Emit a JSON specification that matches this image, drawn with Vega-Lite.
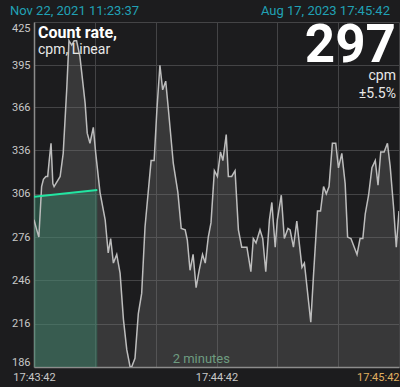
{
  "$schema": "https://vega.github.io/schema/vega-lite/v6.json",
  "width": 365,
  "height": 345,
  "autosize": {"type": "none"},
  "padding": {"left": 34, "top": 22, "right": 1, "bottom": 20},
  "background": "#1c1c1e",
  "config": {
    "font": "Roboto",
    "view": {"stroke": null, "fill": "#1c1c1e"},
    "axis": {"gridColor": "#444446", "gridWidth": 1, "ticks": false, "domainColor": "#8c8c8c", "domainWidth": 1.5, "labelColor": "#c8c8c8", "labelFont": "Roboto", "labelFontSize": 11, "title": null}
  },
  "datasets": {
    "rate": [
      {"s": 0, "cpm": 288}, {"s": 0.9, "cpm": 281}, {"s": 1.6, "cpm": 276}, {"s": 2.5, "cpm": 311},
      {"s": 3.1, "cpm": 316}, {"s": 3.9, "cpm": 318}, {"s": 4.5, "cpm": 318}, {"s": 5.0, "cpm": 329},
      {"s": 5.6, "cpm": 341}, {"s": 6.2, "cpm": 313}, {"s": 6.6, "cpm": 311}, {"s": 8.6, "cpm": 318},
      {"s": 9.6, "cpm": 334}, {"s": 10.8, "cpm": 380}, {"s": 11.5, "cpm": 412}, {"s": 12.4, "cpm": 409},
      {"s": 13.2, "cpm": 412}, {"s": 14.0, "cpm": 412}, {"s": 15.1, "cpm": 401}, {"s": 16.8, "cpm": 369},
      {"s": 17.5, "cpm": 348}, {"s": 18.4, "cpm": 341}, {"s": 19.5, "cpm": 352}, {"s": 20.3, "cpm": 334},
      {"s": 21.7, "cpm": 307}, {"s": 23.4, "cpm": 288}, {"s": 24.4, "cpm": 265}, {"s": 25.2, "cpm": 275},
      {"s": 26.1, "cpm": 258}, {"s": 27.2, "cpm": 264}, {"s": 28.3, "cpm": 251}, {"s": 29.4, "cpm": 219},
      {"s": 30.5, "cpm": 198}, {"s": 31.6, "cpm": 186}, {"s": 32.1, "cpm": 186}, {"s": 33.2, "cpm": 192},
      {"s": 34.3, "cpm": 223}, {"s": 35.4, "cpm": 237}, {"s": 36.5, "cpm": 283}, {"s": 38.5, "cpm": 329},
      {"s": 39.5, "cpm": 329}, {"s": 40.4, "cpm": 364}, {"s": 41.4, "cpm": 395}, {"s": 42.3, "cpm": 378},
      {"s": 43.3, "cpm": 384}, {"s": 44.2, "cpm": 364}, {"s": 45.8, "cpm": 327}, {"s": 47.3, "cpm": 307},
      {"s": 48.4, "cpm": 282}, {"s": 49.7, "cpm": 281}, {"s": 50.4, "cpm": 274}, {"s": 51.3, "cpm": 253},
      {"s": 52.3, "cpm": 264}, {"s": 53.3, "cpm": 241}, {"s": 54.3, "cpm": 253}, {"s": 55.4, "cpm": 264},
      {"s": 56.3, "cpm": 258}, {"s": 57.3, "cpm": 276}, {"s": 58.2, "cpm": 286}, {"s": 59.3, "cpm": 322},
      {"s": 60.3, "cpm": 318}, {"s": 61.3, "cpm": 335}, {"s": 62.1, "cpm": 329}, {"s": 63.2, "cpm": 347},
      {"s": 63.9, "cpm": 318}, {"s": 65.0, "cpm": 318}, {"s": 66.1, "cpm": 322}, {"s": 67.2, "cpm": 281},
      {"s": 68.3, "cpm": 269}, {"s": 70.0, "cpm": 269}, {"s": 71.3, "cpm": 252}, {"s": 72.1, "cpm": 275},
      {"s": 73.0, "cpm": 272}, {"s": 74.3, "cpm": 281}, {"s": 75.2, "cpm": 275}, {"s": 76.2, "cpm": 252},
      {"s": 77.4, "cpm": 288}, {"s": 78.2, "cpm": 300}, {"s": 79.3, "cpm": 269}, {"s": 80.0, "cpm": 288},
      {"s": 81.3, "cpm": 305}, {"s": 82.3, "cpm": 275}, {"s": 83.5, "cpm": 282}, {"s": 84.2, "cpm": 281},
      {"s": 85.3, "cpm": 269}, {"s": 86.4, "cpm": 287}, {"s": 88.1, "cpm": 255}, {"s": 88.9, "cpm": 258},
      {"s": 91.0, "cpm": 217}, {"s": 91.9, "cpm": 250}, {"s": 93.2, "cpm": 294}, {"s": 94.2, "cpm": 294},
      {"s": 95.2, "cpm": 311}, {"s": 96.1, "cpm": 306}, {"s": 97.0, "cpm": 311}, {"s": 98.1, "cpm": 341},
      {"s": 99.2, "cpm": 341}, {"s": 100.1, "cpm": 324}, {"s": 101.2, "cpm": 334}, {"s": 102.3, "cpm": 313},
      {"s": 103.1, "cpm": 276}, {"s": 104.2, "cpm": 275}, {"s": 106.2, "cpm": 264}, {"s": 107.2, "cpm": 275},
      {"s": 108.1, "cpm": 275}, {"s": 108.9, "cpm": 292}, {"s": 110.0, "cpm": 305}, {"s": 111.1, "cpm": 324},
      {"s": 112.2, "cpm": 329}, {"s": 113.1, "cpm": 312}, {"s": 114.0, "cpm": 335}, {"s": 115.1, "cpm": 335},
      {"s": 116.2, "cpm": 341}, {"s": 117.1, "cpm": 325}, {"s": 118.2, "cpm": 297}, {"s": 119.1, "cpm": 269},
      {"s": 120, "cpm": 294}
    ],
    "trend": [
      {"s": 0, "cpm": 303.9},
      {"s": 20.8, "cpm": 308.6}
    ]
  },
  "layer": [
    {
      "data": {"name": "rate"},
      "mark": {"type": "area", "color": "#7a7a7a", "opacity": 0.3, "clip": true},
      "encoding": {
        "x": {
          "field": "s", "type": "quantitative",
          "scale": {"domain": [0, 120], "nice": false, "zero": false},
          "axis": {
            "values": [0, 20, 40, 60, 80, 100, 120],
            "labelExpr": "datum.value == 0 ? '17:43:42' : datum.value == 60 ? '17:44:42' : datum.value == 120 ? '17:45:42' : ''",
            "labelAlign": {"expr": "datum.value == 120 ? 'right' : 'center'"},
            "labelColor": {"expr": "datum.value == 120 ? '#e0b060' : '#c8c8c8'"},
            "labelOverlap": false,
            "labelPadding": 4
          }
        },
        "y": {
          "field": "cpm", "type": "quantitative",
          "scale": {"domain": [186, 425], "nice": false, "zero": false},
          "axis": {
            "values": [186, 216, 246, 276, 306, 336, 366, 395, 425],
            "labelFlush": true,
            "labelPadding": 4,
            "labelOverlap": false
          }
        }
      }
    },
    {
      "data": {"name": "trend"},
      "mark": {"type": "area", "color": "#3a9070", "opacity": 0.42, "clip": true},
      "encoding": {
        "x": {"field": "s", "type": "quantitative"},
        "y": {"field": "cpm", "type": "quantitative"}
      }
    },
    {
      "data": {"name": "rate"},
      "mark": {"type": "line", "color": "#bdbdbd", "strokeWidth": 1.5, "clip": true},
      "encoding": {
        "x": {"field": "s", "type": "quantitative"},
        "y": {"field": "cpm", "type": "quantitative"}
      }
    },
    {
      "data": {"name": "trend"},
      "mark": {"type": "line", "color": "#22e6a2", "strokeWidth": 2, "clip": true},
      "encoding": {
        "x": {"field": "s", "type": "quantitative"},
        "y": {"field": "cpm", "type": "quantitative"}
      }
    },
    {
      "data": {"values": [{"label": "Nov 22, 2021 11:23:37", "s": 0, "cpm": 425}]},
      "mark": {"type": "text", "align": "left", "baseline": "alphabetic", "dx": -24, "dy": -7, "fontSize": 13, "color": "#21a1b5"},
      "encoding": {"x": {"field": "s", "type": "quantitative"}, "y": {"field": "cpm", "type": "quantitative"}, "text": {"field": "label"}}
    },
    {
      "data": {"values": [{"label": "Aug 17, 2023 17:45:42", "s": 120, "cpm": 425}]},
      "mark": {"type": "text", "align": "right", "baseline": "alphabetic", "dx": -9, "dy": -7, "fontSize": 13, "color": "#21a1b5"},
      "encoding": {"x": {"field": "s", "type": "quantitative"}, "y": {"field": "cpm", "type": "quantitative"}, "text": {"field": "label"}}
    },
    {
      "data": {"values": [{"label": "Count rate,", "s": 0, "cpm": 425}]},
      "mark": {"type": "text", "align": "left", "baseline": "alphabetic", "dx": 4, "dy": 16, "fontSize": 16, "fontWeight": "bold", "color": "#ffffff"},
      "encoding": {"x": {"field": "s", "type": "quantitative"}, "y": {"field": "cpm", "type": "quantitative"}, "text": {"field": "label"}}
    },
    {
      "data": {"values": [{"label": "cpm, Linear", "s": 0, "cpm": 425}]},
      "mark": {"type": "text", "align": "left", "baseline": "alphabetic", "dx": 4, "dy": 32, "fontSize": 14, "color": "#e8e8e8"},
      "encoding": {"x": {"field": "s", "type": "quantitative"}, "y": {"field": "cpm", "type": "quantitative"}, "text": {"field": "label"}}
    },
    {
      "data": {"values": [{"label": "297", "s": 120, "cpm": 425}]},
      "mark": {"type": "text", "align": "right", "baseline": "alphabetic", "dx": -3, "dy": 40, "fontSize": 53, "fontWeight": "bold", "color": "#ffffff"},
      "encoding": {"x": {"field": "s", "type": "quantitative"}, "y": {"field": "cpm", "type": "quantitative"}, "text": {"field": "label"}}
    },
    {
      "data": {"values": [{"label": "cpm", "s": 120, "cpm": 425}]},
      "mark": {"type": "text", "align": "right", "baseline": "alphabetic", "dx": -3, "dy": 58, "fontSize": 14, "color": "#e8e8e8"},
      "encoding": {"x": {"field": "s", "type": "quantitative"}, "y": {"field": "cpm", "type": "quantitative"}, "text": {"field": "label"}}
    },
    {
      "data": {"values": [{"label": "±5.5%", "s": 120, "cpm": 425}]},
      "mark": {"type": "text", "align": "right", "baseline": "alphabetic", "dx": -3, "dy": 76, "fontSize": 14, "color": "#e8e8e8"},
      "encoding": {"x": {"field": "s", "type": "quantitative"}, "y": {"field": "cpm", "type": "quantitative"}, "text": {"field": "label"}}
    },
    {
      "data": {"values": [{"label": "2 minutes", "s": 55, "cpm": 186}]},
      "mark": {"type": "text", "align": "center", "baseline": "alphabetic", "dy": -4, "fontSize": 13, "color": "#6e9c80"},
      "encoding": {"x": {"field": "s", "type": "quantitative"}, "y": {"field": "cpm", "type": "quantitative"}, "text": {"field": "label"}}
    }
  ]
}
